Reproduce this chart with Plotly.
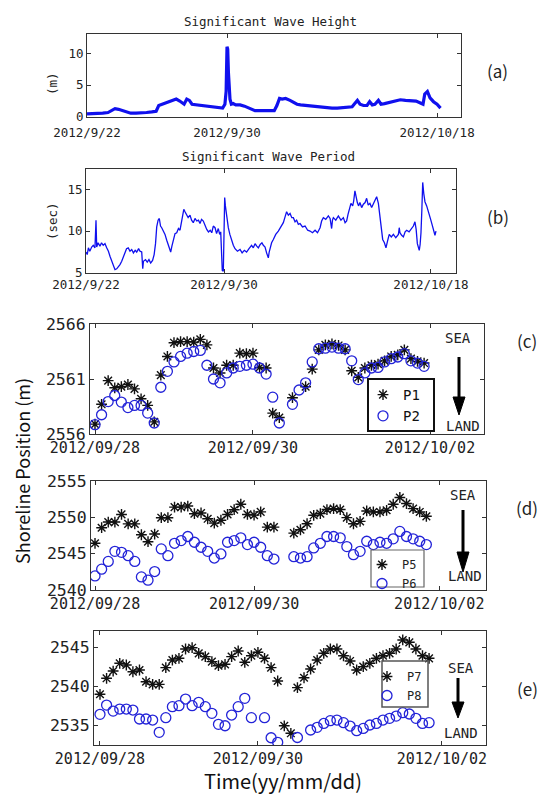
import plotly.graph_objects as go

# target page is 547x796; the page body has an 8px margin, so the figure is 8px smaller
PAGE_W, PAGE_H, OFF = 547, 796, 8
W, H = PAGE_W - OFF, PAGE_H - OFF

# ---------------- data ----------------
# (a) significant wave height, x in days from 2012/9/22
days_a = [0.0, 0.3, 0.6, 0.9, 1.2, 1.4, 1.6, 1.8, 2.0, 2.2,
          2.5, 2.8, 3.1, 3.4, 3.7, 3.95, 4.1, 4.3, 4.5, 4.7,
          4.9, 5.1, 5.3, 5.45, 5.55, 5.7, 5.85, 6.0, 6.3, 6.6,
          6.9, 7.2, 7.5, 7.75, 7.88, 7.95, 8.0, 8.04, 8.08, 8.12,
          8.17, 8.25, 8.35, 8.5, 8.75, 9.0, 9.2, 9.4, 9.6, 9.9,
          10.2, 10.5, 10.7, 10.85, 11.0, 11.15, 11.35, 11.6, 11.8, 12.0,
          12.2, 12.5, 12.8, 13.1, 13.4, 13.7, 14.0, 14.3, 14.6, 14.9,
          15.15, 15.3, 15.45, 15.6, 15.8, 16.0, 16.15, 16.3, 16.45, 16.65,
          16.8, 17.0, 17.3, 17.6, 17.9, 18.2, 18.5, 18.8, 19.05, 19.2,
          19.3, 19.45, 19.6, 19.8, 20.0, 20.2]
wave_height = [0.5, 0.5, 0.5, 0.6, 0.7, 1.0, 1.3, 1.2, 1.0, 0.8,
               0.6, 0.6, 0.6, 0.7, 0.8, 0.9, 1.8, 2.0, 2.2, 2.5,
               2.7, 2.8, 2.5, 2.2, 2.0, 2.8, 2.6, 2.0, 1.9, 1.8,
               1.6, 1.6, 1.5, 1.4, 2.0, 4.0, 11.0, 10.6, 7.0, 4.5,
               2.8, 2.0, 2.1, 1.9, 1.9, 1.7, 1.5, 1.2, 1.0, 1.0,
               1.0, 1.1, 1.0, 1.8, 2.9, 2.8, 2.9, 2.6, 2.3, 2.0,
               1.9, 1.8, 1.7, 1.6, 1.5, 1.4, 1.4, 1.4, 1.5, 1.5,
               1.6, 2.1, 2.6, 2.0, 1.8, 1.8, 2.4, 1.9, 2.0, 2.6,
               2.0, 2.1, 2.3, 2.6, 2.7, 2.6, 2.6, 2.5, 2.2, 2.0,
               3.6, 4.0, 3.0, 2.4, 2.0, 1.4]

# (b) significant wave period, x in days from 2012/9/22
days_b = [0.0, 0.07, 0.14, 0.22, 0.33, 0.42, 0.52, 0.58, 0.62, 0.7,
          0.81, 0.9, 1.0, 1.1, 1.2, 1.3, 1.39, 1.5, 1.58, 1.68,
          1.78, 1.87, 1.97, 2.07, 2.16, 2.26, 2.35, 2.45, 2.55, 2.65,
          2.75, 2.85, 2.94, 3.05, 3.13, 3.23, 3.29, 3.33, 3.45, 3.55,
          3.65, 3.75, 3.86, 3.95, 4.03, 4.1, 4.18, 4.25, 4.32, 4.39,
          4.48, 4.58, 4.68, 4.77, 4.85, 4.91, 4.98, 5.06, 5.16, 5.26,
          5.36, 5.45, 5.53, 5.6, 5.67, 5.74, 5.82, 5.92, 6.03, 6.12,
          6.22, 6.32, 6.42, 6.52, 6.61, 6.7, 6.8, 6.9, 7.0, 7.1,
          7.2, 7.29, 7.38, 7.48, 7.57, 7.67, 7.75, 7.81, 7.86, 7.9,
          7.96, 8.0, 8.04, 8.08, 8.12, 8.18, 8.25, 8.34, 8.44, 8.54,
          8.64, 8.78, 8.93, 9.05, 9.18, 9.31, 9.45, 9.6, 9.7, 9.8,
          9.9, 9.99, 10.1, 10.2, 10.28, 10.38, 10.47, 10.57, 10.62, 10.67,
          10.76, 10.86, 11.0, 11.15, 11.3, 11.44, 11.54, 11.63, 11.73, 11.83,
          11.93, 12.02, 12.12, 12.21, 12.31, 12.41, 12.55, 12.7, 12.85, 12.99,
          13.13, 13.28, 13.42, 13.57, 13.66, 13.76, 13.9, 14.05, 14.15, 14.24,
          14.29, 14.34, 14.48, 14.63, 14.78, 14.92, 15.02, 15.11, 15.19, 15.27,
          15.36, 15.46, 15.52, 15.59, 15.66, 15.73, 15.8, 15.88, 15.98, 16.08,
          16.18, 16.27, 16.36, 16.46, 16.56, 16.66, 16.76, 16.85, 16.95, 17.0,
          17.04, 17.12, 17.2, 17.3, 17.39, 17.48, 17.58, 17.7, 17.82, 17.96,
          18.11, 18.16, 18.2, 18.3, 18.4, 18.5, 18.59, 18.73, 18.88, 18.98,
          19.07, 19.14, 19.21, 19.32, 19.37, 19.42, 19.47, 19.52, 19.58, 19.65,
          19.75, 19.85, 19.92, 19.98, 20.06, 20.14, 20.23, 20.29]
wave_period = [7.5, 7.2, 8.0, 7.6, 8.1, 8.3, 8.0, 11.3, 8.1, 8.6,
               8.2, 8.6, 8.3, 8.5, 8.0, 7.6, 7.0, 6.3, 5.8, 5.4,
               5.5, 5.7, 6.0, 6.4, 6.9, 7.4, 7.9, 8.0, 7.6, 7.8,
               7.4, 7.7, 7.5, 7.9, 7.6, 7.5, 5.5, 6.4, 6.6, 6.3,
               6.6, 6.2, 6.5, 7.2, 8.5, 10.5, 11.3, 11.5, 10.6, 10.4,
               10.0, 9.6, 8.9, 8.3, 7.8, 7.5, 8.2, 8.9, 9.7, 9.8,
               10.3, 10.1, 11.0, 11.6, 12.6, 12.3, 12.0, 11.6, 11.9, 11.3,
               11.0, 11.5, 11.2, 11.3, 10.9, 11.4, 11.2, 10.6, 10.2, 9.9,
               10.1, 9.8, 10.6, 10.4, 9.7, 10.3, 9.6, 9.9, 7.0, 5.3,
               5.2, 10.0, 14.0, 13.0, 12.3, 11.2, 10.4, 9.6, 8.8, 8.3,
               7.9, 7.6, 7.8, 7.4, 7.7, 7.5, 7.9, 8.3, 8.0, 8.5,
               8.2, 8.0, 8.4, 8.6, 8.3, 8.1, 7.4, 6.8, 7.5, 8.0,
               8.6, 9.0, 9.6, 10.0, 10.6, 11.0, 11.7, 12.3, 11.9, 12.1,
               11.6, 11.6, 11.1, 11.3, 10.8, 10.9, 10.5, 10.6, 10.1, 10.0,
               9.8, 10.1, 9.8, 10.4, 11.2, 11.6, 11.4, 11.8, 11.5, 10.3,
               11.3, 11.6, 11.3, 11.8, 11.3, 11.6, 11.0, 11.2, 12.0, 12.6,
               13.3, 13.0, 13.6, 14.8, 13.8, 13.4, 13.0, 13.4, 12.8, 13.2,
               13.4, 13.9, 13.1, 13.3, 12.8, 13.2, 13.6, 14.1, 13.3, 12.5,
               11.4, 10.0, 9.0, 8.6, 8.0, 8.8, 9.6, 9.3, 9.6, 9.2,
               9.6, 10.4, 9.8, 9.5, 9.3, 9.9, 10.1, 9.9, 10.4, 10.6,
               11.1, 10.2, 8.5, 7.7, 8.4, 9.8, 12.5, 15.8, 14.5, 13.5,
               13.0, 12.4, 11.9, 11.4, 10.8, 10.0, 9.5, 10.0]

# (c) hours from 2012/09/28 00:00
hours_c = [0, 2, 4, 6, 8, 10, 12, 14, 16, 18,
           20, 22, 24, 26, 28, 30, 32, 34, 36, 38,
           40, 42, 44, 46, 48, 50, 52, 54, 56,
           60, 62, 64, 66, 68, 70, 72, 74, 76, 78,
           80, 82, 84, 86, 88, 90, 92, 94, 96, 98, 100]
p1 = [2556.9, 2558.7, 2560.85, 2560.2, 2560.3, 2560.5, 2560.1, 2559.2, 2558.6, 2557.1,
      2561.35, 2563.05, 2564.3, 2564.4, 2564.4, 2564.35, 2564.6, 2564.1, 2562.0, 2561.55,
      2562.25, 2562.25, 2563.35, 2563.3, 2563.35, 2562.05, 2562.0, 2557.9, 2557.5,
      2559.3, None, 2560.3, 2561.9, 2563.65, 2564.1, 2564.2, 2564.05, 2563.65, 2561.75,
      2561.15, 2562.0, 2562.25, 2562.35, 2562.65, 2563.05, 2563.2, 2563.65, 2562.85, 2562.6, 2562.45]
p2 = [2556.85, 2557.75, 2558.95, 2559.5, 2558.9, 2558.4, 2558.6, 2558.6, 2557.9, 2557.0,
      2560.25, 2561.7, 2562.55, 2563.05, 2563.35, 2563.5, 2563.6, 2562.25, 2561.0, 2560.65,
      2561.55, 2562.0, 2562.15, 2562.25, 2562.35, 2562.0, 2561.45, 2559.35, 2557.0,
      2558.7, 2560.0, 2560.65, 2562.55, 2563.75, 2563.8, 2563.9, 2563.8, 2563.75, 2562.65,
      2560.95, 2561.55, 2562.0, 2562.05, 2562.55, 2562.85, 2563.0, 2563.3, 2562.65, 2562.45, 2562.15]

# (d)
hours_d = [0, 2, 4, 6, 8, 10, 12, 14, 16, 18,
           20, 22, 24, 26, 28, 30, 32, 34, 36, 38,
           40, 42, 44, 46, 48, 50, 52, 54,
           60, 62, 64, 66, 68, 70, 72, 74, 76, 78,
           80, 82, 84, 86, 88, 90, 92, 94, 96, 98, 100]
p5 = [2546.43, 2548.57, 2549.35, 2549.35, 2550.4, 2549.1, 2549.1, 2547.6, 2546.65, 2547.7,
      2549.95, 2549.95, 2551.4, 2551.4, 2551.55, 2550.5, 2550.6, 2549.8, 2549.2, 2549.6,
      2550.4, 2551.05, 2551.8, 2550.4, 2550.3, 2550.75, 2548.65, 2548.65,
      2547.82, 2548.29, 2549.12, 2550.28, 2550.51, 2551.07, 2551.2, 2551.07, 2549.96, 2549.12,
      2549.44, 2550.88, 2550.74, 2550.74, 2550.97, 2551.8, 2552.73, 2551.9, 2551.2, 2550.74, 2550.14]
p6 = [2541.94, 2542.87, 2543.93, 2545.32, 2545.18, 2544.72, 2543.93, 2541.8, 2541.35, 2542.54,
      2545.65, 2544.72, 2546.43, 2546.8, 2547.36, 2546.57, 2545.88, 2545.32, 2544.4, 2544.96,
      2546.57, 2546.8, 2547.18, 2546.25, 2546.57, 2545.88, 2544.72, 2544.26,
      2544.58, 2544.4, 2544.58, 2545.79, 2546.43, 2547.36, 2547.36, 2547.18, 2545.97, 2544.86,
      2545.32, 2546.71, 2546.25, 2546.57, 2546.43, 2547.04, 2548.06, 2547.36, 2547.04, 2546.71, 2546.25]

# (e)
hours_e = [0, 2, 4, 6, 8, 10, 12, 14, 16, 18,
           20, 22, 24, 26, 28, 30, 32, 34, 36, 38,
           40, 42, 44, 46, 48, 50, 52, 54, 56, 58,
           60, 62, 64, 66, 68, 70, 72, 74, 76, 78,
           80, 82, 84, 86, 88, 90, 92, 94, 96, 98, 100]
p7 = [2538.94, 2540.99, 2541.92, 2542.91, 2542.69, 2541.83, 2542.05, 2540.55, 2540.21, 2540.21,
      2542.35, 2543.33, 2543.55, 2544.74, 2544.91, 2544.19, 2543.76, 2543.12, 2542.6, 2542.78,
      2543.76, 2544.49, 2543.04, 2543.88, 2544.32, 2543.55, 2542.35, 2540.64, 2534.9, 2533.94,
      2539.79, 2541.06, 2542.18, 2543.33, 2544.19, 2544.74, 2544.74, 2543.88, 2543.21, 2542.05,
      2542.48, 2542.91, 2543.55, 2543.88, 2544.19, 2544.74, 2545.9, 2545.6, 2544.74, 2543.88, 2543.55]
p8 = [2536.37, 2537.56, 2536.79, 2537.05, 2537.05, 2536.92, 2535.77, 2535.77, 2535.64, 2534.06,
      2535.94, 2537.35, 2537.48, 2538.33, 2537.48, 2537.91, 2537.35, 2536.5, 2535.09, 2534.91,
      2536.28, 2537.35, 2538.42, 2535.94, None, 2535.94, 2533.37, 2532.78, None, None,
      2533.4, None, 2534.36, 2534.7, 2535.2, 2535.56, 2535.64, 2535.3, 2534.87, 2534.27,
      2534.57, 2535.0, 2535.2, 2535.64, 2535.86, 2536.15, 2536.58, 2536.41, 2535.86, 2535.2, 2535.3]

wave_ticks = [0, 8, 20]
wave_ticktext = ["2012/9/22", "2012/9/30", "2012/10/18"]
shore_ticktext = ["2012/09/28", "2012/09/30", "2012/10/02"]

# ---------------- style ----------------
MONO = "DejaVu Sans Mono"
SANS = "Noto Sans CJK JP"
BLUE = "#1010ee"
CBLUE = "#2323d8"
AX = "#333333"


def X(px):
    return (px - OFF) / W


def Y(py):
    return 1 - (py - OFF) / H


fig = go.Figure()

fig.add_trace(go.Scatter(x=days_a, y=wave_height, mode="lines",
                         line=dict(color=BLUE, width=3.2), showlegend=False,
                         xaxis="x", yaxis="y"))
fig.add_trace(go.Scatter(x=days_b, y=wave_period, mode="lines",
                         line=dict(color=BLUE, width=1.3), showlegend=False,
                         xaxis="x2", yaxis="y2"))

star = dict(symbol="asterisk-open", size=9, color="#111111",
            line=dict(color="#111111", width=1.4))
circ = dict(symbol="circle-open", size=10, color=CBLUE,
            line=dict(color=CBLUE, width=1.3))

for (hx, a, b, na, nb, xa, ya, lg) in [
        (hours_c, p1, p2, "P1", "P2", "x3", "y3", "legend"),
        (hours_d, p5, p6, "P5", "P6", "x4", "y4", "legend2"),
        (hours_e, p7, p8, "P7", "P8", "x5", "y5", "legend3")]:
    fig.add_trace(go.Scatter(x=hx, y=a, mode="markers", name=na, marker=star,
                             xaxis=xa, yaxis=ya, legend=lg))
    fig.add_trace(go.Scatter(x=hx, y=b, mode="markers", name=nb, marker=circ,
                             xaxis=xa, yaxis=ya, legend=lg))


def axis(dom, rng, tickvals, ticktext=None, anchor=None, size=12, standoff=None):
    d = dict(domain=dom, range=rng, tickvals=tickvals, showline=True,
             linecolor=AX, linewidth=1, mirror="ticks", ticks="inside",
             ticklen=4, tickcolor=AX, showgrid=False, zeroline=False,
             automargin=False,
             tickfont=dict(family=MONO, size=size, color="#222222"),
             anchor=anchor, fixedrange=True)
    if ticktext is not None:
        d["ticktext"] = ticktext
    if standoff is not None:
        d["ticklabelstandoff"] = standoff
    return d


layout = dict(
    width=W, height=H,
    margin=dict(l=0, r=0, t=0, b=0, pad=0, autoexpand=False),
    paper_bgcolor="white", plot_bgcolor="white", showlegend=True,
    xaxis=axis([X(87), X(461)], [0, 21.37], wave_ticks, wave_ticktext, "y", 12.5, 4),
    yaxis=axis([Y(117), Y(34)], [0, 13], [0, 5, 10], None, "x", 12.5),
    xaxis2=axis([X(86), X(456)], [0, 21.45], wave_ticks, wave_ticktext, "y2", 12.5),
    yaxis2=axis([Y(273), Y(169)], [5, 17.4], [5, 10, 15], None, "x2", 12.5),
    xaxis3=axis([X(90), X(484)], [-1.52, 118.2], [0, 48, 101.8], shore_ticktext, "y3", 15),
    yaxis3=axis([Y(434), Y(324)], [2556, 2566], [2556, 2561, 2566], None, "x3", 16.5),
    xaxis4=axis([X(91), X(486)], [-1.21, 118.0], [0, 48, 103.9], shore_ticktext, "y4", 15),
    yaxis4=axis([Y(590), Y(481)], [2540, 2555], [2540, 2545, 2550, 2555], None, "x4", 16.5),
    xaxis5=axis([X(94), X(486)], [-1.82, 117.3], [0, 48, 103.9], shore_ticktext, "y5", 15),
    yaxis5=axis([Y(745), Y(631)], [2532.44, 2547.05], [2535, 2540, 2545], None, "x5", 16.5),
    legend=dict(x=X(363), y=Y(379), xanchor="left", yanchor="top",
                bgcolor="rgba(0,0,0,0)", borderwidth=0, tracegroupgap=0,
                font=dict(family=MONO, size=14, color="#111111")),
    legend2=dict(x=X(362), y=Y(550), xanchor="left", yanchor="top",
                 bgcolor="rgba(0,0,0,0)", borderwidth=0, tracegroupgap=0,
                 font=dict(family=MONO, size=12, color="#222222")),
    legend3=dict(x=X(367), y=Y(662), xanchor="left", yanchor="top",
                 bgcolor="rgba(0,0,0,0)", borderwidth=0, tracegroupgap=0,
                 font=dict(family=MONO, size=12, color="#222222")),
)
fig.update_layout(**layout)

# legend boxes
for (x0, y0, x1, y1, lw, col) in [(368, 379, 434, 431, 2, "#111111"),
                                  (371, 550, 424, 587, 1.2, "#666666"),
                                  (382, 661, 428, 707, 1.5, "#555555")]:
    fig.add_shape(type="rect", xref="paper", yref="paper",
                  x0=X(x0), x1=X(x1), y0=Y(y0), y1=Y(y1),
                  line=dict(color=col, width=lw), fillcolor="rgba(0,0,0,0)")

# SEA -> LAND arrows
for (ax, y_top, y_head, y_tip) in [(459, 357, 397, 415), (463, 510, 552, 572), (458, 678, 702, 718)]:
    fig.add_shape(type="line", xref="paper", yref="paper",
                  x0=X(ax), x1=X(ax), y0=Y(y_top), y1=Y(y_head + 2),
                  line=dict(color="black", width=3))
    path = "M {} {} L {} {} L {} {} Z".format(X(ax - 6), Y(y_head), X(ax + 6), Y(y_head),
                                               X(ax), Y(y_tip))
    fig.add_shape(type="path", xref="paper", yref="paper", path=path,
                  fillcolor="black", line=dict(color="black", width=1))


def ann(text, px, py, size, family=MONO, angle=0, color="#222222"):
    fig.add_annotation(text=text, x=X(px), y=Y(py), xref="paper", yref="paper",
                       showarrow=False, xanchor="center", yanchor="middle",
                       textangle=angle, font=dict(family=family, size=size, color=color))


ann("Significant Wave Height", 270, 22, 12.5)
ann("Significant Wave Period", 268, 156, 12.5)
ann("(m)", 53, 84, 12.5, angle=-90)
ann("(sec)", 52, 221, 12.5, angle=-90)
ann("(a)", 497, 71, 17, SANS)
ann("(b)", 498, 216, 17, SANS)
ann("(c)", 527, 340, 17, SANS)
ann("(d)", 527, 507, 17, SANS)
ann("(e)", 527, 688, 17, SANS)
for (x1, y1, x2, y2) in [(458, 338, 463, 426), (463, 495, 465, 576), (461, 668, 461, 733)]:
    ann("SEA", x1, y1, 14)
    ann("LAND", x2, y2, 14)
ann("Shoreline Position (m)", 22, 471, 18, SANS, angle=-90, color="#111111")
ann("Time(yy/mm/dd)", 283, 780, 20, SANS, color="#111111")

fig.write_html("out.html")
